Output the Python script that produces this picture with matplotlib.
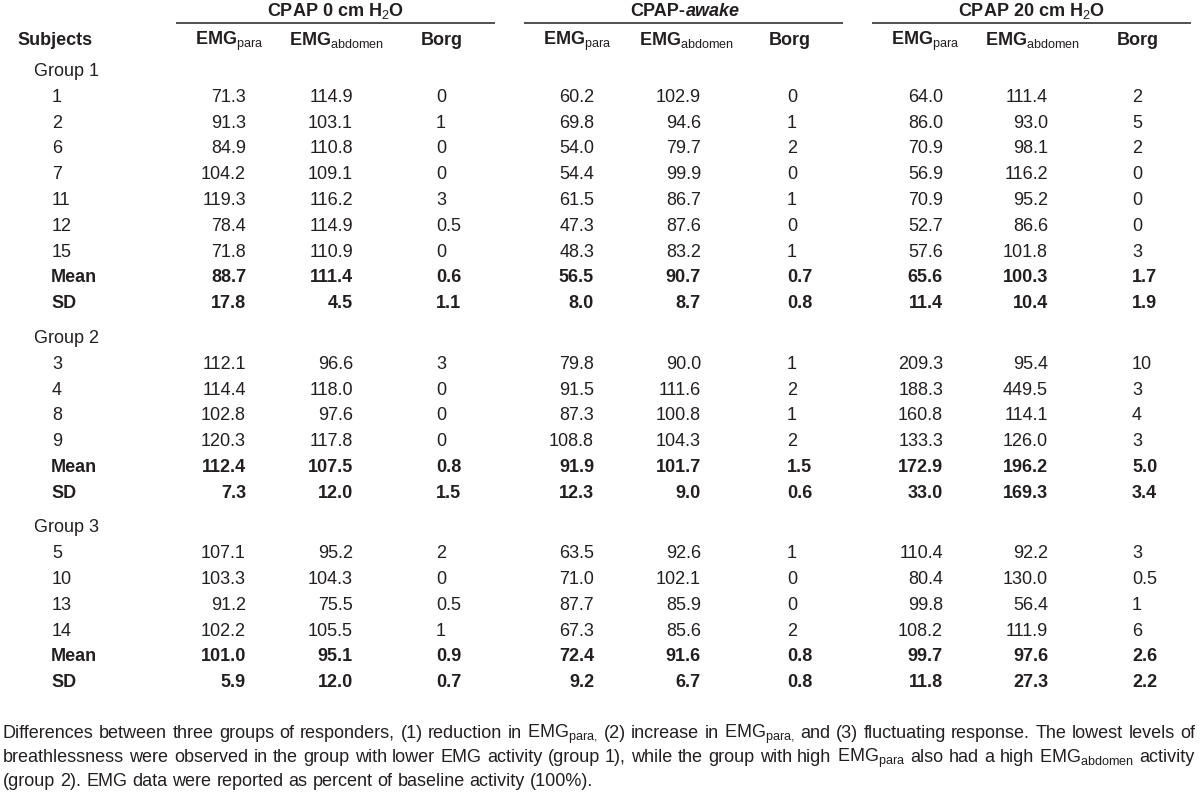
import matplotlib
matplotlib.use('Agg')
import matplotlib.pyplot as plt

plt.rcParams['font.family'] = ['Liberation Sans', 'DejaVu Sans']
plt.rcParams['mathtext.fontset'] = 'custom'
plt.rcParams['mathtext.rm'] = 'Liberation Sans'
plt.rcParams['mathtext.it'] = 'Liberation Sans:italic'
plt.rcParams['mathtext.bf'] = 'Liberation Sans:bold'

INK = '#231f20'
FS = 13

# ---- data ----
conditions = ['CPAP 0 cm H$_2$O', 'CPAP-awake', 'CPAP 20 cm H$_2$O']
columns = ['EMG$_{\\mathrm{para}}$', 'EMG$_{\\mathrm{abdomen}}$', 'Borg']
groups = ['Group 1', 'Group 2', 'Group 3']

group1_subjects = ['1', '2', '6', '7', '11', '12', '15']
group2_subjects = ['3', '4', '8', '9']
group3_subjects = ['5', '10', '13', '14']

# each row: para, abdomen, Borg for CPAP 0 / CPAP-awake / CPAP 20
group1_values = [
    [71.3, 114.9, 0, 60.2, 102.9, 0, 64.0, 111.4, 2],
    [91.3, 103.1, 1, 69.8, 94.6, 1, 86.0, 93.0, 5],
    [84.9, 110.8, 0, 54.0, 79.7, 2, 70.9, 98.1, 2],
    [104.2, 109.1, 0, 54.4, 99.9, 0, 56.9, 116.2, 0],
    [119.3, 116.2, 3, 61.5, 86.7, 1, 70.9, 95.2, 0],
    [78.4, 114.9, 0.5, 47.3, 87.6, 0, 52.7, 86.6, 0],
    [71.8, 110.9, 0, 48.3, 83.2, 1, 57.6, 101.8, 3],
]
group1_mean = [88.7, 111.4, 0.6, 56.5, 90.7, 0.7, 65.6, 100.3, 1.7]
group1_sd = [17.8, 4.5, 1.1, 8.0, 8.7, 0.8, 11.4, 10.4, 1.9]

group2_values = [
    [112.1, 96.6, 3, 79.8, 90.0, 1, 209.3, 95.4, 10],
    [114.4, 118.0, 0, 91.5, 111.6, 2, 188.3, 449.5, 3],
    [102.8, 97.6, 0, 87.3, 100.8, 1, 160.8, 114.1, 4],
    [120.3, 117.8, 0, 108.8, 104.3, 2, 133.3, 126.0, 3],
]
group2_mean = [112.4, 107.5, 0.8, 91.9, 101.7, 1.5, 172.9, 196.2, 5.0]
group2_sd = [7.3, 12.0, 1.5, 12.3, 9.0, 0.6, 33.0, 169.3, 3.4]

group3_values = [
    [107.1, 95.2, 2, 63.5, 92.6, 1, 110.4, 92.2, 3],
    [103.3, 104.3, 0, 71.0, 102.1, 0, 80.4, 130.0, 0.5],
    [91.2, 75.5, 0.5, 87.7, 85.9, 0, 99.8, 56.4, 1],
    [102.2, 105.5, 1, 67.3, 85.6, 2, 108.2, 111.9, 6],
]
group3_mean = [101.0, 95.1, 0.9, 72.4, 91.6, 0.8, 99.7, 97.6, 2.6]
group3_sd = [5.9, 12.0, 0.7, 9.2, 6.7, 0.8, 11.8, 27.3, 2.2]

footnote = [
    'Differences between three groups of responders, (1) reduction in EMG$_{\\mathrm{para,}}$ '
    '(2) increase in EMG$_{\\mathrm{para,}}$ and (3) fluctuating response. The lowest levels of',
    'breathlessness were observed in the group with lower EMG activity (group 1), while the group '
    'with high EMG$_{\\mathrm{para}}$ also had a high EMG$_{\\mathrm{abdomen}}$ activity',
    '(group 2). EMG data were reported as percent of baseline activity (100%).',
]

# ---- layout (pixels) ----
fig = plt.figure(figsize=(12, 7.94), dpi=100)
ax = fig.add_axes([0, 0, 1, 1])
ax.set_xlim(0, 1200)
ax.set_ylim(794, 0)
ax.axis('off')
renderer = fig.canvas.get_renderer()

block_left = [176, 524, 872]
block_right = [495, 843, 1191]
block_center = [335, 685, 1031]
para_right = [246, 594, 943]
abd_right = [353, 701, 1048]
borg_left = [436, 787, 1132]
head_center = [[229, 336, 442], [577, 686, 790], [925, 1032, 1138]]

pitch = 25.8
group_gap = 34.7


def txt(x, y, s, **kw):
    kw.setdefault('fontsize', FS)
    kw.setdefault('color', INK)
    kw.setdefault('va', 'baseline')
    return ax.text(x, y, s, **kw)


def width(t):
    return t.get_window_extent(renderer).width


# top headers
for i, cond in enumerate(conditions):
    if i == 1:
        a = txt(0, 16, 'CPAP-', ha='left', fontweight='bold')
        b = txt(0, 16, 'awake', ha='left', fontweight='bold', fontstyle='italic')
        start = block_center[i] - (width(a) + width(b)) / 2
        a.set_x(start)
        b.set_x(start + width(a))
    else:
        txt(block_center[i], 16, cond, ha='center', fontweight='bold')
    ax.plot([block_left[i], block_right[i]], [23, 23], color=INK, lw=1.1,
            solid_capstyle='butt')
    for j, col in enumerate(columns):
        txt(head_center[i][j], 45, col, ha='center', fontweight='bold')
txt(17, 45, 'Subjects', ha='left', fontweight='bold')


def fmt_row(vals, bold, y):
    w = 'bold' if bold else 'normal'
    for i in range(3):
        para, abd, borg = vals[3 * i:3 * i + 3]
        txt(para_right[i], y, f'{para:.1f}', ha='right', fontweight=w)
        txt(abd_right[i], y, f'{abd:.1f}', ha='right', fontweight=w)
        b = f'{borg:.1f}' if bold else f'{borg:g}'
        txt(borg_left[i], y, b, ha='left', fontweight=w)


y = 76
all_groups = [
    (group1_subjects, group1_values, group1_mean, group1_sd),
    (group2_subjects, group2_values, group2_mean, group2_sd),
    (group3_subjects, group3_values, group3_mean, group3_sd),
]
for g, (subs, vals, mean, sd) in enumerate(all_groups):
    txt(34, y, groups[g], ha='left')
    for s, row in zip(subs, vals):
        y += pitch
        txt(52, y, s, ha='left')
        fmt_row(row, False, y)
    y += pitch
    txt(51, y, 'Mean', ha='left', fontweight='bold')
    fmt_row(mean, True, y)
    y += pitch
    txt(51, y, 'SD', ha='left', fontweight='bold')
    fmt_row(sd, True, y)
    y += group_gap

# footnote, justified like the source; shrink font until the long lines fit
x0, x1 = 3, 1195
foot_y = [738, 762, 786]
fsize = FS
while True:
    probe = txt(0, 0, footnote[0], fontsize=fsize, alpha=0)
    fits = width(probe) <= x1 - x0
    probe.remove()
    if fits:
        break
    fsize -= 0.25

for k, line in enumerate(footnote):
    words = line.split(' ')
    items = [txt(0, foot_y[k], w, ha='left', fontsize=fsize) for w in words]
    widths = [width(t) for t in items]
    if k < len(footnote) - 1:
        gap = (x1 - x0 - sum(widths)) / (len(words) - 1)
    else:
        sp = txt(0, 0, 'a a', fontsize=fsize, alpha=0)
        gap = width(sp) - 2 * width(txt(0, 0, 'a', fontsize=fsize, alpha=0))
    x = x0
    for t, w in zip(items, widths):
        t.set_x(x)
        x += w + gap

fig.savefig('out.png', dpi=100)
